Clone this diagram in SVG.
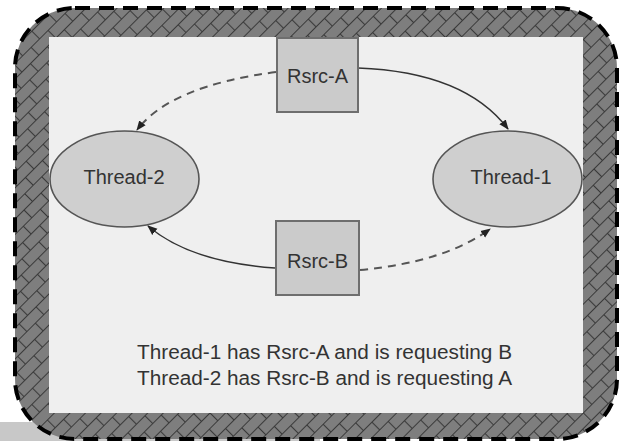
<svg xmlns="http://www.w3.org/2000/svg" width="625" height="441" viewBox="0 0 625 441">
  <style>
    .frame { fill: url(#brick); stroke: #000; stroke-width: 4; stroke-dasharray: 15 9; }
    .panel { fill: #efefef; }
    .thread { fill: #cfcfcf; stroke: #555; stroke-width: 1.6; }
    .rsrc { fill: #cbcbcb; stroke: #6e6e6e; stroke-width: 2; }
    .label { font-family: "Liberation Sans", Arial, sans-serif; font-size: 20px; fill: #333; text-anchor: middle; }
    .note { font-family: "Liberation Sans", Arial, sans-serif; font-size: 20px; fill: #333; }
    .edge { fill: none; stroke: #333; stroke-width: 1.5; marker-end: url(#arrow); }
    .edge.wait { stroke: #555; stroke-width: 2; stroke-dasharray: 8 6; }
  </style>
  <defs>
    <!-- diagonal brick hatch for the outer frame -->
    <pattern id="brick" patternUnits="userSpaceOnUse" width="24" height="22" patternTransform="rotate(-45)">
      <rect width="24" height="22" fill="#7e7e7e"/>
      <path d="M0 0.5 H24 M0 11.5 H24 M0.5 0 V11 M12.5 11 V22" stroke="#3a3a3a" stroke-width="1.1" fill="none"/>
    </pattern>
    <marker id="arrow" viewBox="0 0 10 10" refX="9" refY="5" markerWidth="10" markerHeight="10" markerUnits="userSpaceOnUse" orient="auto">
      <path d="M0 1 L10 5 L0 9 Z" fill="#222"/>
    </marker>
  </defs>

  <!-- ground strip under the frame -->
  <rect x="0" y="422" width="320" height="19" fill="#c8c8c8"/>

  <!-- outer frame and inner panel -->
  <rect class="frame" x="15" y="8" width="602" height="431" rx="60" ry="60"/>
  <rect class="panel" x="49" y="37" width="534" height="376"/>

  <g id="connectors">
    <path class="edge" d="M358,68 Q465,72 508,129"/>
    <path class="edge wait" d="M276,72 Q170,86 137,130"/>
    <path class="edge" d="M275,268 Q190,262 148,226"/>
    <path class="edge wait" d="M360,270 Q445,262 490,229"/>
  </g>

  <g id="rsrc-a">
    <rect class="rsrc" x="277" y="38" width="81" height="74"/>
    <text class="label" x="317.5" y="83">Rsrc-A</text>
  </g>
  <g id="rsrc-b">
    <rect class="rsrc" x="276" y="221" width="83" height="74"/>
    <text class="label" x="317.5" y="268">Rsrc-B</text>
  </g>
  <g id="thread-2">
    <ellipse class="thread" cx="124.5" cy="179" rx="74.5" ry="48"/>
    <text class="label" x="124" y="184">Thread-2</text>
  </g>
  <g id="thread-1">
    <ellipse class="thread" cx="507.5" cy="179" rx="74.5" ry="48"/>
    <text class="label" x="511" y="184">Thread-1</text>
  </g>

  <g id="legend">
    <text class="note" x="137" y="359" textLength="375" lengthAdjust="spacingAndGlyphs">Thread-1 has Rsrc-A and is requesting B</text>
    <text class="note" x="137" y="385" textLength="375" lengthAdjust="spacingAndGlyphs">Thread-2 has Rsrc-B and is requesting A</text>
  </g>
</svg>
